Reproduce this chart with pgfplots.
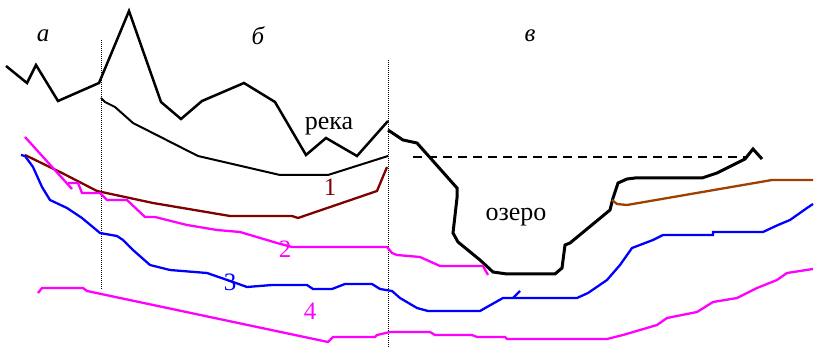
\documentclass[border=0pt]{standalone}
\usepackage{pgfplots}
\pgfplotsset{compat=1.18}
\usepackage{fontspec}
\setmainfont{Liberation Serif}
\definecolor{dred}{RGB}{128,0,0}
\definecolor{lbrown}{RGB}{160,64,0}
\definecolor{mag}{RGB}{255,0,255}
\definecolor{blu}{RGB}{0,0,255}
\begin{document}
\begin{tikzpicture}
\begin{axis}[width=815pt,height=347pt,scale only axis,xmin=0,xmax=815,ymin=0,ymax=347,
  y dir=reverse,hide axis,clip=false]
\path (axis cs:0,0) rectangle (axis cs:815,347);
% dotted vertical dividers
\addplot[black,densely dotted,line width=1pt] coordinates {(101,40) (101,290)};
\addplot[black,densely dotted,line width=1pt] coordinates {(388,60) (388,347)};
% top river line
\addplot[black,line width=2.5pt,line join=miter] coordinates {(6,66) (27,83) (36,65) (58,101) (99,83) (129,11) (161,102) (181,119) (202,101) (244,83) (275,102) (306,155) (326,138) (357,156) (388,121)};
% second river line
\addplot[black,line width=2pt] coordinates {(101,98) (105,102) (115,107) (133,123) (198,156) (280,175) (328,175) (388,156)};
% lake
\addplot[black,line width=3pt] coordinates {(388,130) (403,140) (417,143) (457,188) (457,198) (453,233) (458,242) (480,260) (493,272) (507,274) (555,274) (562,268) (565,245) (570,243) (610,210) (613,198) (618,183) (627,179) (635,178) (702,178) (717,173) (733,165) (745,159) (753,149) (762,159)};
\addplot[black,line width=1.5pt,dash pattern=on 9pt off 6pt] coordinates {(413,157) (748,157)};
% line 1
\addplot[dred,line width=2.3pt] coordinates {(25,155) (62,173) (97,191) (153,203) (230,216) (292,216) (298,218) (377,191) (387,167)};
\addplot[lbrown,line width=2.3pt] coordinates {(612,200) (617,204) (627,205) (772,180) (813,180)};
% line 2
\addplot[mag,line width=2.3pt] coordinates {(25,137) (72,189)};
\addplot[mag,line width=2.3pt] coordinates {(68,183) (78,183) (82,193) (100,193) (107,200) (127,200) (145,217) (155,217) (187,225) (217,230) (240,232) (277,243) (292,247) (387,247) (392,253) (397,255) (420,257) (440,266) (483,266) (488,275)};
% line 3
\addplot[blu,line width=2.3pt] coordinates {(21,155) (25,156) (33,167) (42,187) (50,200) (67,208) (82,218) (100,233) (117,236) (123,240) (133,250) (150,265) (170,270) (207,273) (233,282) (247,287) (272,285) (307,285) (313,289) (332,289) (345,284) (372,284) (380,289) (392,291) (400,298) (417,308) (428,311) (480,311) (487,307) (503,298) (577,298) (588,293) (607,280) (620,265) (632,248) (653,240) (663,235) (713,235) (713,232) (763,232) (778,225) (790,220) (807,208) (813,204)};
\addplot[blu,line width=2.3pt] coordinates {(513,298) (520,291)};
% line 4
\addplot[mag,line width=2.3pt] coordinates {(38,293) (42,288) (83,288) (87,291) (328,342) (333,337) (375,337) (377,335) (390,332) (430,332) (435,335) (472,335) (477,337) (505,337) (507,339) (607,339) (623,335) (640,330) (657,325) (667,318) (697,312) (713,302) (737,298) (757,288) (777,280) (787,273) (813,269)};
% labels
\node[font=\fontsize{25}{27}\selectfont\itshape] at (axis cs:43,36) {а};
\node[font=\fontsize{25}{27}\selectfont\itshape] at (axis cs:258,36) {б};
\node[font=\fontsize{25}{27}\selectfont\itshape] at (axis cs:530,36) {в};
\node[font=\fontsize{26}{28}\selectfont] at (axis cs:329,126) {река};
\node[font=\fontsize{26}{28}\selectfont] at (axis cs:516,217) {озеро};
\node[font=\fontsize{25}{27}\selectfont,text=dred] at (axis cs:330,187) {1};
\node[font=\fontsize{25}{27}\selectfont,text=mag] at (axis cs:285,249) {2};
\node[font=\fontsize{25}{27}\selectfont,text=blu] at (axis cs:230,282) {3};
\node[font=\fontsize{25}{27}\selectfont,text=mag] at (axis cs:310,311) {4};
\end{axis}
\end{tikzpicture}
\end{document}
